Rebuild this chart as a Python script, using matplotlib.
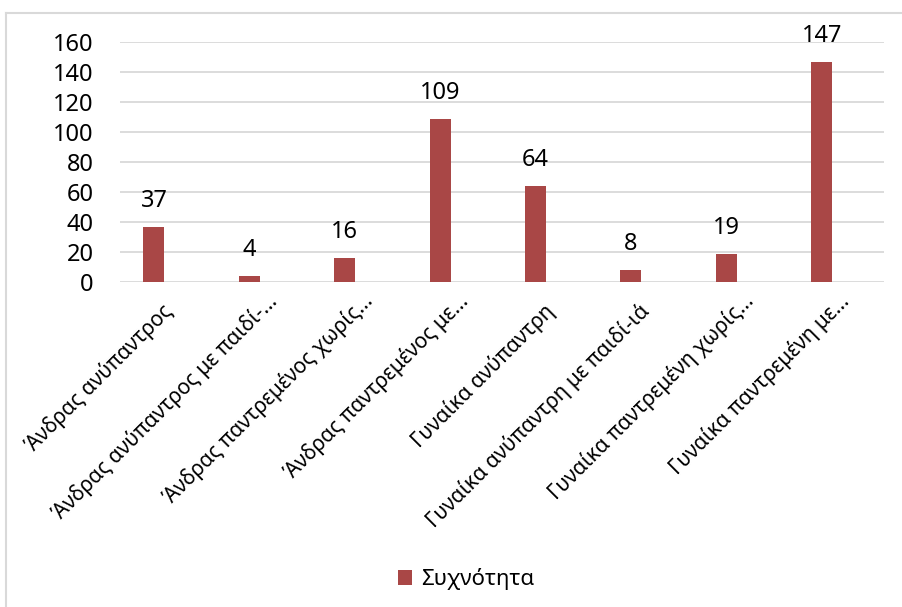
import matplotlib.pyplot as plt
from matplotlib.lines import Line2D
import matplotlib.transforms as mtransforms

plt.rcParams['font.family'] = ['Noto Sans', 'DejaVu Sans']

categories = [
    'Άνδρας ανύπαντρος',
    'Άνδρας ανύπαντρος με παιδί-...',
    'Άνδρας παντρεμένος χωρίς...',
    'Άνδρας παντρεμένος με...',
    'Γυναίκα ανύπαντρη',
    'Γυναίκα ανύπαντρη με παιδί-ιά',
    'Γυναίκα παντρεμένη χωρίς...',
    'Γυναίκα παντρεμένη με...',
]
counts = [37, 4, 16, 109, 64, 8, 19, 147]
yticks = [0, 20, 40, 60, 80, 100, 120, 140, 160]

bar_color = '#A94746'
grid_color = '#D9D9D9'

fig = plt.figure(figsize=(9.02, 6.07), dpi=100)
ax = fig.add_axes([120 / 902, 1 - 282 / 607, 764 / 902, 240 / 607])

x = list(range(len(categories)))
bars = ax.bar(x, counts, width=0.22, color=bar_color, label='Συχνότητα', zorder=3)
ax.bar_label(bars, labels=[str(v) for v in counts], padding=10, fontsize=17)

ax.set_xlim(-0.356, 7.652)
ax.set_ylim(0, 160)
ax.set_yticks(yticks)
ax.tick_params(axis='y', labelsize=17, length=0, pad=19)
ax.tick_params(axis='x', length=0, pad=0)
ax.grid(axis='y', color=grid_color, linewidth=1.3, zorder=0)
for s in ax.spines.values():
    s.set_visible(False)

ax.set_xticks(x)
ax.set_xticklabels(categories, rotation=45, ha='right', va='baseline',
                   rotation_mode='anchor', fontsize=15)
# shortened labels sit a little further up and to the right
for lbl, name in zip(ax.get_xticklabels(), categories):
    if name.endswith('...'):
        dx, dy = 0.29, -0.20
    else:
        dx, dy = 0.20, -0.30
    shift = mtransforms.ScaledTranslation(dx, dy, fig.dpi_scale_trans)
    lbl.set_transform(lbl.get_transform() + shift)

fig.legend(handles=[bars], labels=['Συχνότητα'], loc='center',
           bbox_to_anchor=(466 / 902, 1 - 579 / 607), frameon=False,
           fontsize=16, handlelength=0.65, handleheight=0.65, handletextpad=0.4)

# chart frame
fig.add_artist(Line2D([5.5 / 902, 1], [1 - 12.5 / 607] * 2, color=grid_color, lw=1.5))
fig.add_artist(Line2D([5.5 / 902] * 2, [0, 1 - 12.5 / 607], color=grid_color, lw=1.5))

fig.savefig('out.png', dpi=100)
